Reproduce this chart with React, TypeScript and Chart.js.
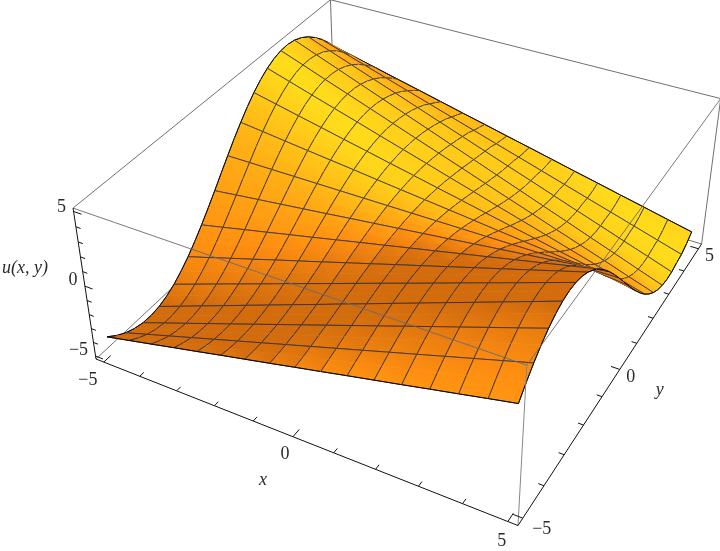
import React, { useEffect, useRef } from "react";
import { Chart, registerables } from "chart.js";

Chart.register(...registerables);

const xValues = [-5, -4.375, -3.75, -3.125, -2.5, -1.875, -1.25, -0.625, 0, 0.625, 1.25, 1.875, 2.5, 3.125, 3.75, 4.375, 5];
const yValues = [-5, -4.6875, -4.375, -4.0625, -3.75, -3.4375, -3.125, -2.8125, -2.5, -2.1875, -1.875, -1.5625, -1.25, -0.9375, -0.625, -0.3125, 0, 0.3125, 0.625, 0.9375, 1.25, 1.5625, 1.875, 2.1875, 2.5, 2.8125, 3.125, 3.4375, 3.75, 4.0625, 4.375, 4.6875, 5];
const uRows = [
  [-3.79, -3.42, -3.05, -2.67, -2.3, -1.92, -1.55, -1.18, -0.8, -0.43, -0.05, 0.32, 0.69, 1.07, 1.44, 1.82, 2.19],
  [-4.28, -3.83, -3.38, -2.94, -2.49, -2.04, -1.59, -1.15, -0.7, -0.25, 0.2, 0.64, 1.09, 1.54, 1.99, 2.43, 2.88],
  [-4.66, -4.15, -3.64, -3.13, -2.62, -2.11, -1.6, -1.09, -0.58, -0.07, 0.44, 0.95, 1.46, 1.97, 2.48, 2.99, 3.5],
  [-4.92, -4.36, -3.8, -3.24, -2.68, -2.12, -1.56, -1.0, -0.44, 0.12, 0.67, 1.23, 1.79, 2.35, 2.91, 3.47, 4.03],
  [-5.07, -4.47, -3.88, -3.28, -2.69, -2.09, -1.49, -0.9, -0.3, 0.3, 0.89, 1.49, 2.09, 2.68, 3.28, 3.87, 4.47],
  [-5.09, -4.48, -3.86, -3.24, -2.62, -2.0, -1.38, -0.77, -0.15, 0.47, 1.09, 1.71, 2.32, 2.94, 3.56, 4.18, 4.8],
  [-4.99, -4.37, -3.74, -3.12, -2.49, -1.87, -1.24, -0.62, 0.01, 0.63, 1.26, 1.88, 2.51, 3.13, 3.76, 4.38, 5.01],
  [-4.77, -4.15, -3.54, -2.92, -2.3, -1.69, -1.07, -0.45, 0.16, 0.78, 1.4, 2.01, 2.63, 3.25, 3.86, 4.48, 5.1],
  [-4.43, -3.84, -3.24, -2.65, -2.06, -1.46, -0.87, -0.28, 0.32, 0.91, 1.5, 2.09, 2.69, 3.28, 3.87, 4.47, 5.06],
  [-3.98, -3.43, -2.87, -2.32, -1.76, -1.21, -0.65, -0.1, 0.46, 1.01, 1.57, 2.13, 2.68, 3.24, 3.79, 4.35, 4.9],
  [-3.44, -2.94, -2.43, -1.93, -1.42, -0.92, -0.42, 0.09, 0.59, 1.1, 1.6, 2.1, 2.61, 3.11, 3.61, 4.12, 4.62],
  [-2.81, -2.37, -1.93, -1.49, -1.05, -0.61, -0.17, 0.27, 0.71, 1.15, 1.59, 2.03, 2.47, 2.91, 3.35, 3.79, 4.23],
  [-2.11, -1.75, -1.38, -1.02, -0.65, -0.29, 0.08, 0.45, 0.81, 1.18, 1.54, 1.91, 2.27, 2.64, 3.0, 3.37, 3.74],
  [-1.37, -1.08, -0.8, -0.52, -0.24, 0.05, 0.33, 0.61, 0.89, 1.17, 1.46, 1.74, 2.02, 2.3, 2.58, 2.87, 3.15],
  [-0.59, -0.39, -0.2, -0.01, 0.18, 0.37, 0.57, 0.76, 0.95, 1.14, 1.33, 1.53, 1.72, 1.91, 2.1, 2.3, 2.49],
  [0.21, 0.31, 0.4, 0.5, 0.6, 0.7, 0.79, 0.89, 0.99, 1.08, 1.18, 1.28, 1.38, 1.47, 1.57, 1.67, 1.77],
  [1, 1, 1, 1, 1, 1, 1, 1, 1, 1, 1, 1, 1, 1, 1, 1, 1],
  [1.77, 1.67, 1.57, 1.47, 1.38, 1.28, 1.18, 1.08, 0.99, 0.89, 0.79, 0.7, 0.6, 0.5, 0.4, 0.31, 0.21],
  [2.49, 2.3, 2.1, 1.91, 1.72, 1.53, 1.33, 1.14, 0.95, 0.76, 0.57, 0.37, 0.18, -0.01, -0.2, -0.39, -0.59],
  [3.15, 2.87, 2.58, 2.3, 2.02, 1.74, 1.46, 1.17, 0.89, 0.61, 0.33, 0.05, -0.24, -0.52, -0.8, -1.08, -1.37],
  [3.74, 3.37, 3.0, 2.64, 2.27, 1.91, 1.54, 1.18, 0.81, 0.45, 0.08, -0.29, -0.65, -1.02, -1.38, -1.75, -2.11],
  [4.23, 3.79, 3.35, 2.91, 2.47, 2.03, 1.59, 1.15, 0.71, 0.27, -0.17, -0.61, -1.05, -1.49, -1.93, -2.37, -2.81],
  [4.62, 4.12, 3.61, 3.11, 2.61, 2.1, 1.6, 1.1, 0.59, 0.09, -0.42, -0.92, -1.42, -1.93, -2.43, -2.94, -3.44],
  [4.9, 4.35, 3.79, 3.24, 2.68, 2.13, 1.57, 1.01, 0.46, -0.1, -0.65, -1.21, -1.76, -2.32, -2.87, -3.43, -3.98],
  [5.06, 4.47, 3.87, 3.28, 2.69, 2.09, 1.5, 0.91, 0.32, -0.28, -0.87, -1.46, -2.06, -2.65, -3.24, -3.84, -4.43],
  [5.1, 4.48, 3.86, 3.25, 2.63, 2.01, 1.4, 0.78, 0.16, -0.45, -1.07, -1.69, -2.3, -2.92, -3.54, -4.15, -4.77],
  [5.01, 4.38, 3.76, 3.13, 2.51, 1.88, 1.26, 0.63, 0.01, -0.62, -1.24, -1.87, -2.49, -3.12, -3.74, -4.37, -4.99],
  [4.8, 4.18, 3.56, 2.94, 2.32, 1.71, 1.09, 0.47, -0.15, -0.77, -1.38, -2.0, -2.62, -3.24, -3.86, -4.48, -5.09],
  [4.47, 3.87, 3.28, 2.68, 2.09, 1.49, 0.89, 0.3, -0.3, -0.9, -1.49, -2.09, -2.69, -3.28, -3.88, -4.47, -5.07],
  [4.03, 3.47, 2.91, 2.35, 1.79, 1.23, 0.67, 0.12, -0.44, -1.0, -1.56, -2.12, -2.68, -3.24, -3.8, -4.36, -4.92],
  [3.5, 2.98, 2.46, 1.94, 1.42, 0.9, 0.38, -0.14, -0.66, -1.17, -1.69, -2.21, -2.73, -3.25, -3.77, -4.29, -4.81],
  [2.88, 2.41, 1.96, 1.49, 1.03, 0.56, 0.11, -0.36, -0.82, -1.29, -1.75, -2.21, -2.68, -3.14, -3.6, -4.06, -4.53],
  [2.19, 1.79, 1.4, 1.0, 0.61, 0.21, -0.19, -0.58, -0.98, -1.37, -1.77, -2.17, -2.56, -2.96, -3.35, -3.75, -4.14],
];
const axisTicks = [-5, -4, -3, -2, -1, 0, 1, 2, 3, 4, 5];
const axisLabels = ["\u22125", "0", "5"];
const titleX = "x";
const titleY = "y";
const titleU = "u(x, y)";

const BOX_XY = 5.22;
const BOX_U = 5.23;
const norm = (v: number) => (v + BOX_XY) / (2 * BOX_XY);
const normU = (v: number) => (v + BOX_U) / (2 * BOX_U);

// Perspective camera of the plot box, in box units 0..1.
function project(X: number, Y: number, Z: number) {
  const w = 1 - 0.1247 * X + 0.2138 * Y - 0.0676 * Z;
  return {
    x: (96 + 357.4 * X + 310.7 * Y - 27.9 * Z) / w,
    y: (359 + 101 * X - 194.3 * Y - 165 * Z) / w,
  };
}
const depth = (X: number, Y: number, Z: number) => 1 - 0.1247 * X + 0.2138 * Y - 0.0676 * Z;
const plot = (x: number, y: number, u: number) => project(norm(x), norm(y), normU(u));

const GAP = { x: NaN, y: NaN };

// Colour of the surface for its slope at a table node.
function nodeColor(i: number, j: number) {
  const iA = Math.max(i - 1, 0);
  const iB = Math.min(i + 1, xValues.length - 1);
  const jA = Math.max(j - 1, 0);
  const jB = Math.min(j + 1, yValues.length - 1);
  const ux = (uRows[j][iB] - uRows[j][iA]) / (xValues[iB] - xValues[iA]);
  const uy = (uRows[jB][i] - uRows[jA][i]) / (yValues[jB] - yValues[jA]);
  const L = Math.sqrt(ux * ux + uy * uy + 1);
  const nx = -ux / L;
  const ny = -uy / L;
  const nz = 1 / L;
  const g = Math.min(222, Math.max(108, 85 + 85 * nx + 90 * nz + 55 * Math.max(-ny, 0)));
  const r = Math.min(255, 70 + 1.3 * g);
  return [r, g, g * 0.12];
}
const mix = (a: number[], b: number[]) => a.map((v, k) => (v + b[k]) / 2);
const rgb = (c: number[]) => `rgb(${Math.round(c[0])},${Math.round(c[1])},${Math.round(c[2])})`;

function lineSet(data: any[], color: string, width: number) {
  return { data, borderColor: color, borderWidth: width, showLine: true, pointRadius: 0, fill: false, tension: 0, clip: false };
}

function buildDatasets(ctx: CanvasRenderingContext2D) {
  const sets: any[] = [];
  const GRAY = "rgb(112,112,112)";
  const AXIS = "#111";
  const corner = (X: number, Y: number, Z: number) => project(X, Y, Z);

  // Back edges of the box, hidden by the surface.
  sets.push(lineSet([corner(0, 0, 0), corner(0, 1, 0)], GRAY, 1));
  sets.push(lineSet([corner(0, 1, 0), corner(0, 1, 1)], GRAY, 1));
  sets.push(lineSet([corner(0, 1, 0), corner(1, 1, 0)], GRAY, 1));

  // Surface facets, far to near.
  const cells: any[] = [];
  for (let j = 0; j < yValues.length - 1; j++) {
    for (let i = 0; i < xValues.length - 1; i++) {
      const avg = (uRows[j][i] + uRows[j][i + 1] + uRows[j + 1][i] + uRows[j + 1][i + 1]) / 4;
      cells.push({
        i,
        j,
        d: depth(norm((xValues[i] + xValues[i + 1]) / 2), norm((yValues[j] + yValues[j + 1]) / 2), normU(avg)),
      });
    }
  }
  cells.sort((a, b) => b.d - a.d);
  const MESH = "rgba(42,42,58,0.82)";
  const EDGE = "rgba(5,5,5,0.95)";
  for (const { i, j } of cells) {
    const a = plot(xValues[i], yValues[j], uRows[j][i]);
    const b = plot(xValues[i + 1], yValues[j], uRows[j][i + 1]);
    const c = plot(xValues[i + 1], yValues[j + 1], uRows[j + 1][i + 1]);
    const d = plot(xValues[i], yValues[j + 1], uRows[j + 1][i]);
    const low = mix(nodeColor(i, j), nodeColor(i + 1, j));
    const high = mix(nodeColor(i, j + 1), nodeColor(i + 1, j + 1));
    const grad = ctx.createLinearGradient((a.x + b.x) / 2, (a.y + b.y) / 2, (c.x + d.x) / 2, (c.y + d.y) / 2);
    grad.addColorStop(0, rgb(low));
    grad.addColorStop(1, rgb(high));
    sets.push({ data: [a, b, c, d, a], borderColor: grad, backgroundColor: grad, borderWidth: 0.7, showLine: true, pointRadius: 0, fill: "shape", tension: 0, clip: false });

    const mesh: any[] = [d, a, GAP, b, c];
    if (j % 2 === 0) mesh.push(GAP, a, b);
    if ((j + 1) % 2 === 0) mesh.push(GAP, d, c);
    sets.push(lineSet(mesh, MESH, 1));

    const edge: any[] = [];
    if (i === 0) edge.push(d, a, GAP);
    if (i === xValues.length - 2) edge.push(b, c, GAP);
    if (j === 0) edge.push(a, b, GAP);
    if (j === yValues.length - 2) edge.push(d, c, GAP);
    if (edge.length) sets.push(lineSet(edge, EDGE, 1));
  }

  // Front edges of the box, over the surface.
  sets.push(lineSet([corner(0, 0, 1), corner(0, 1, 1)], GRAY, 1));
  sets.push(lineSet([corner(0, 1, 1), corner(1, 1, 1)], GRAY, 1));
  sets.push(lineSet([corner(1, 1, 1), corner(1, 0, 1)], "rgba(105,105,115,0.9)", 1));
  sets.push(lineSet([corner(0, 0, 1), corner(1, 0, 1)], "rgba(105,105,115,0.9)", 1));
  sets.push(lineSet([corner(1, 0, 1), corner(1, 0, 0)], "rgb(135,135,135)", 1));
  sets.push(lineSet([corner(1, 1, 1), corner(1, 1, 0)], GRAY, 1));

  // Axes with their ticks.
  const xt: any[] = [corner(0, 0, 0), corner(1, 0, 0), GAP];
  const yt: any[] = [corner(1, 0, 0), corner(1, 1, 0), GAP];
  const zt: any[] = [corner(0, 0, 0), corner(0, 0, 1), GAP];
  for (const t of axisTicks) {
    const n = norm(t);
    const major = t % 5 === 0;
    xt.push(corner(n, 0, 0), corner(n, major ? 0.024 : 0.014, 0), GAP);
    yt.push(corner(1, n, 0), corner(major ? 0.98 : 0.988, n, 0), GAP);
    zt.push(corner(0, 0, n), corner(major ? 0.02 : 0.012, 0, n), GAP);
  }
  sets.push(lineSet(xt, AXIS, 1), lineSet(yt, AXIS, 1), lineSet(zt, AXIS, 1));

  return sets.map((s, idx) => ({ ...s, order: sets.length - idx }));
}

const labelsPlugin = {
  id: "plotLabels",
  afterDraw(chart: any) {
    const ctx = chart.ctx;
    const tickVals = [-5, 0, 5];
    const put = (text: string, p: { x: number; y: number }, dx: number, dy: number, font: string) => {
      ctx.font = font;
      ctx.fillText(text, p.x + dx, p.y + dy);
    };
    ctx.save();
    ctx.fillStyle = "#2a2a2a";
    ctx.textAlign = "center";
    ctx.textBaseline = "middle";
    const F = '18px "Liberation Serif"';
    const I = 'italic 18px "Liberation Serif"';
    const xOff = [[-16, 18], [-8, 18], [-6, 20]];
    const yOff = [[19, 11], [11, 8], [11, 8]];
    const zOff = [[-17, -6], [-12, -6], [-12, -4]];
    tickVals.forEach((t, k) => {
      const n = norm(t);
      put(axisLabels[k], project(n, 0, 0), xOff[k][0], xOff[k][1], F);
      put(axisLabels[k], project(1, n, 0), yOff[k][0], yOff[k][1], F);
      put(axisLabels[k], project(0, 0, n), zOff[k][0], zOff[k][1], F);
    });
    put(titleX, project(0.5, 0, 0), -30, 44, I);
    put(titleY, project(1, 0.5, 0), 40, 21, I);
    put(titleU, project(0, 0, 0.5), -60, -18, I);
    ctx.restore();
  },
};

export default function App() {
  const ref = useRef<HTMLCanvasElement>(null);
  useEffect(() => {
    document.body.style.margin = "0";
    const canvas = ref.current!;
    const chart = new Chart(canvas, {
      type: "scatter",
      data: { datasets: buildDatasets(canvas.getContext("2d")!) },
      options: {
        animation: false,
        responsive: false,
        events: [],
        layout: { padding: 0 },
        plugins: { legend: { display: false }, tooltip: { enabled: false } },
        scales: {
          x: { type: "linear", min: 0, max: 720, display: false },
          y: { type: "linear", min: 0, max: 551, reverse: true, display: false },
        },
      },
      plugins: [labelsPlugin],
    } as any);
    return () => chart.destroy();
  }, []);
  return <canvas ref={ref} width={720} height={551} style={{ display: "block" }} />;
}
